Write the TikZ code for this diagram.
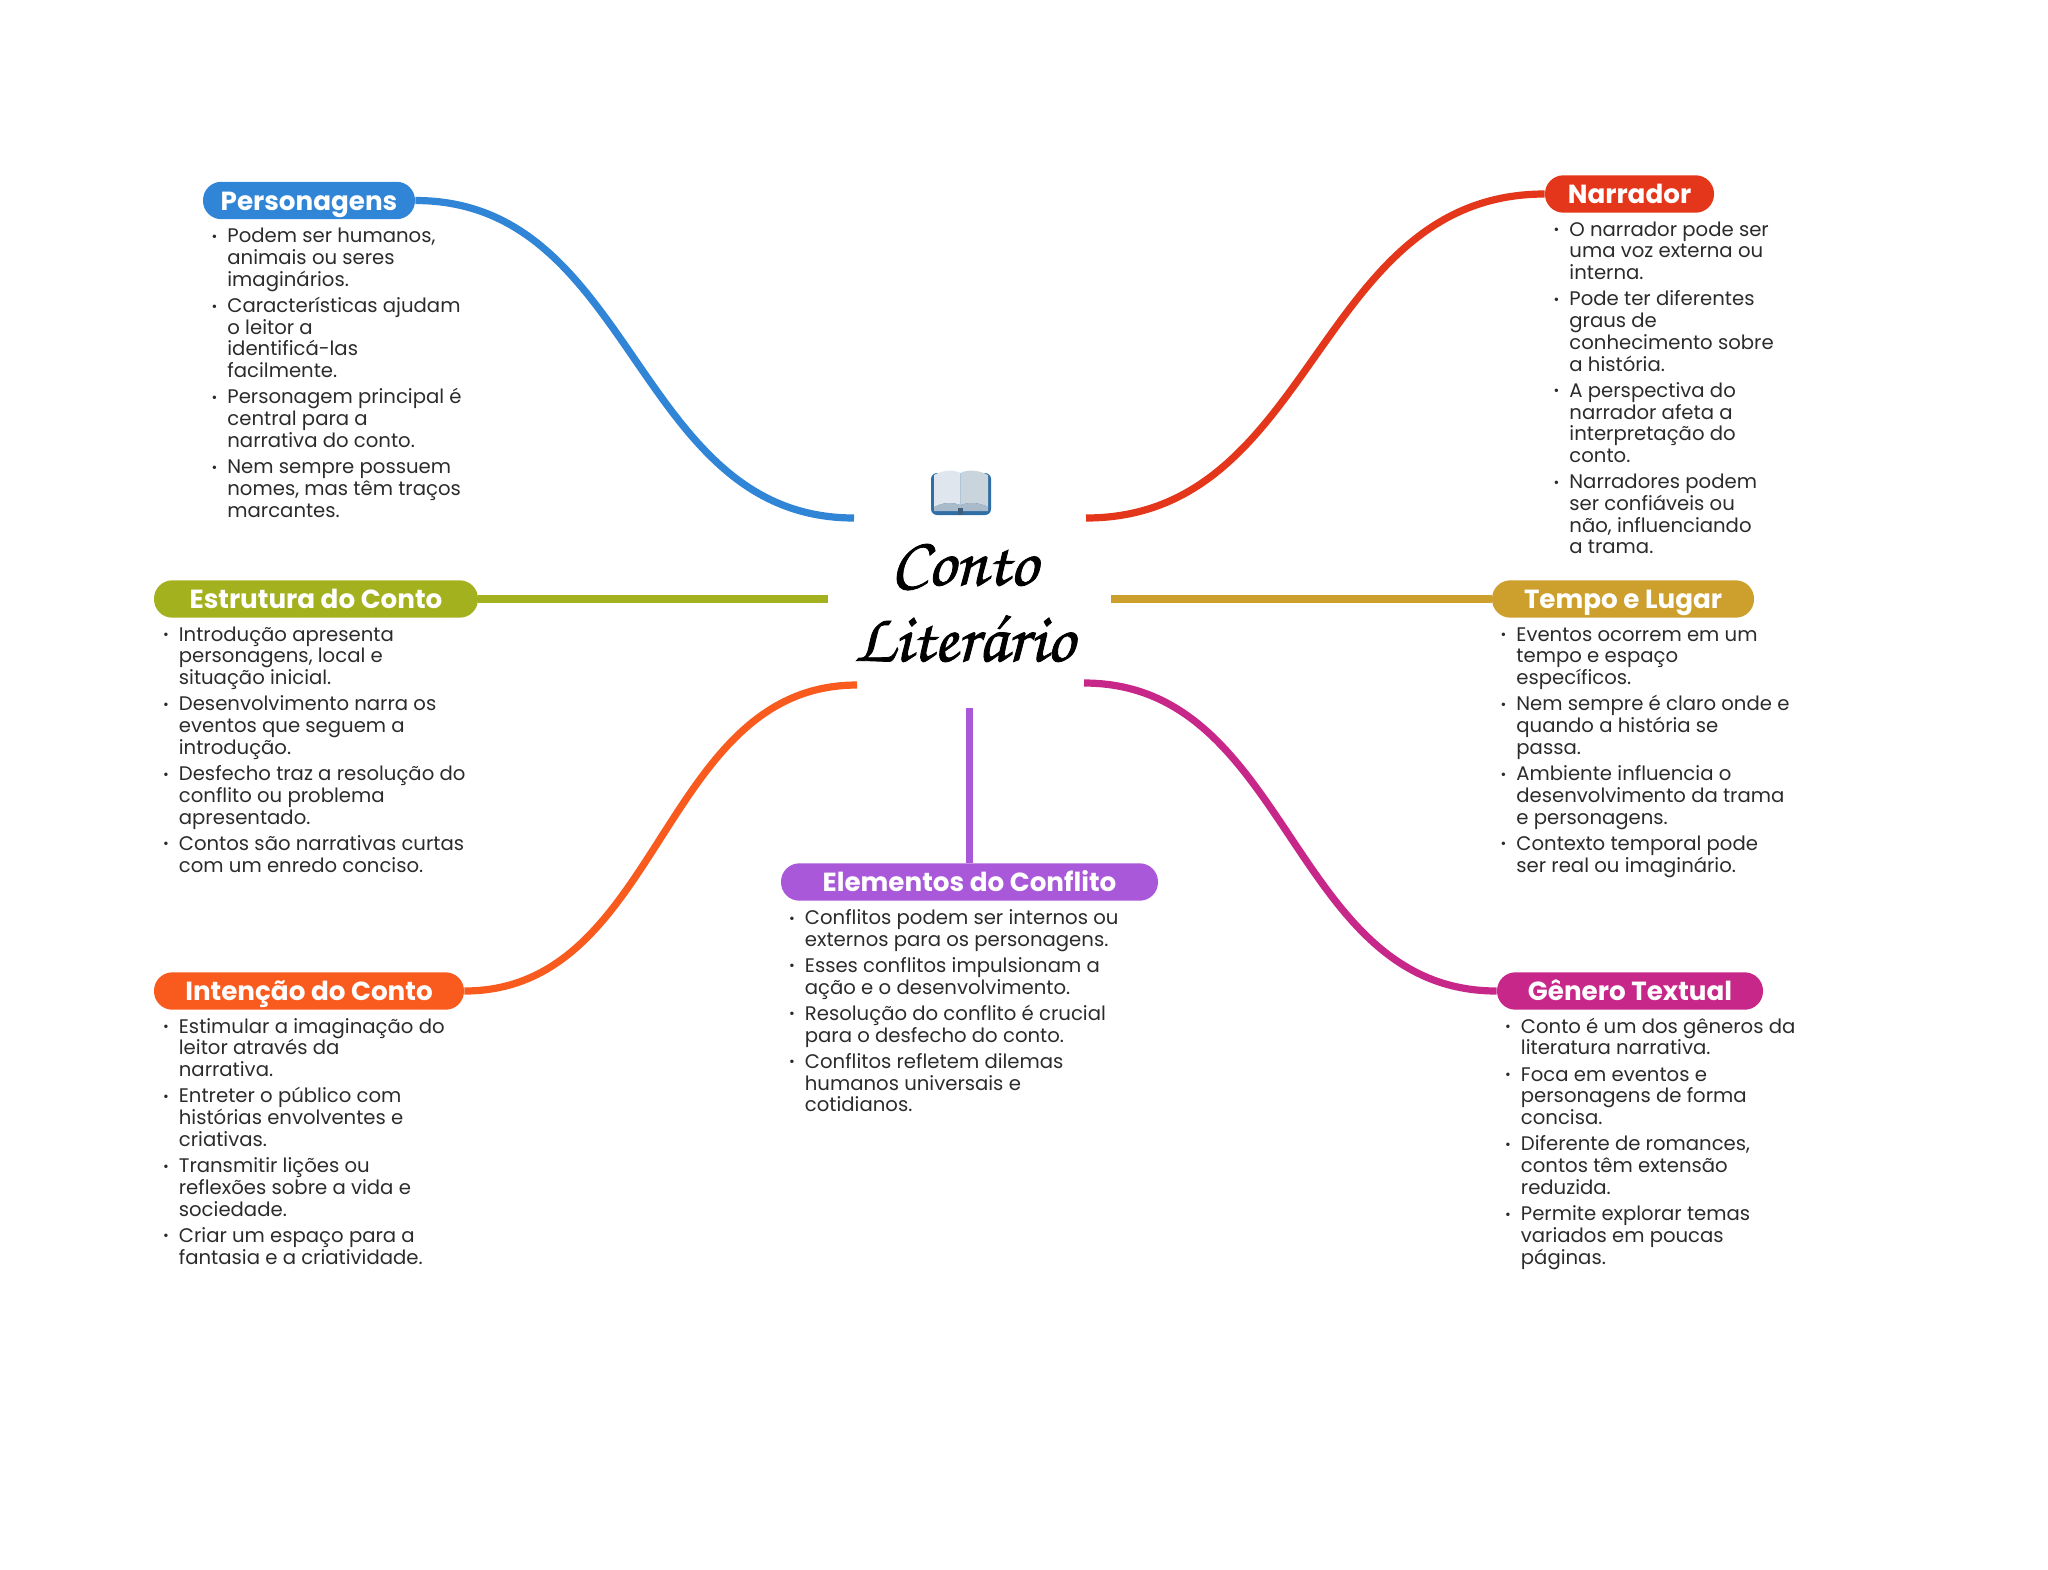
\documentclass[tikz,border=0pt]{standalone}
\usepackage{fontspec}
\setmainfont{Poppins}
\newfontfamily\chorusfont[FakeBold=1.2]{TeX Gyre Chorus}
\definecolor{cblue}{HTML}{3085D6}
\definecolor{cred}{HTML}{E4361A}
\definecolor{colive}{HTML}{A4B11E}
\definecolor{ctan}{HTML}{CDA02E}
\definecolor{corange}{HTML}{F95B1F}
\definecolor{cmag}{HTML}{C8278A}
\definecolor{cpurple}{HTML}{A958D9}
\definecolor{ctext}{HTML}{2B2B2B}
\definecolor{bookback}{HTML}{2F6FA6}
\definecolor{bookleft}{HTML}{DFE6ED}
\definecolor{bookright}{HTML}{C9D4DC}
\definecolor{bookfoot}{HTML}{A9BBCB}
\definecolor{bookspine}{HTML}{3F5F7F}
\newcommand{\Bu}{\llap{{\fontsize{7}{7}\selectfont\raisebox{0.7pt}{•}}\hspace{5pt}}}
\newcommand{\Fr}{\rule{0pt}{8.5pt}\Bu}
\newcommand{\Gp}{\\[2.25pt]}
\tikzset{
  x=0.5pt,y=-0.5pt,
  pill/.style={fill=#1,draw=none,rounded corners=9.2pt,minimum height=18.7pt,inner sep=0pt,text=white,text height=9.5pt,text depth=0pt,font=\fontsize{13.1}{15}\selectfont\bfseries},
  listbox/.style={anchor=north west,inner sep=0pt,align=left,text=ctext,font=\fontsize{9.83}{10.87}\selectfont},
  link/.style={draw=#1,line width=3.6pt},
  titletext/.style={align=center,inner sep=0pt,font=\chorusfont\fontsize{34.8}{38}\selectfont,text=black}
}
\begin{document}
\begin{tikzpicture}
\useasboundingbox (0,0) rectangle (2048,1569);
% free ends of connectors
\coordinate (eb) at (854,518);
\coordinate (er) at (1086,518);
\coordinate (eo) at (828,599);
\coordinate (et) at (1111,599);
\coordinate (ef) at (857,685);
\coordinate (em) at (1084,683);
\coordinate (ep) at (969.5,708);
% topic pills
\node[pill=cblue,minimum width=106pt] (per) at (309,200.5) {Personagens};
\node[pill=cred,minimum width=84.5pt] (nar) at (1629.5,194) {Narrador};
\node[pill=colive,minimum width=162pt] (est) at (316,599) {Estrutura do Conto};
\node[pill=ctan,minimum width=131pt] (tem) at (1623,599) {Tempo e Lugar};
\node[pill=corange,minimum width=155pt] (int) at (309,991) {Intenção do Conto};
\node[pill=cmag,minimum width=133pt] (gen) at (1630,991) {Gênero Textual};
\node[pill=cpurple,minimum width=188.5pt] (ele) at (969.5,882) {Elementos do Conflito};
% connectors
\draw[link=cblue] (per.east) .. controls +(220,0) and +(-220,0) .. (eb);
\draw[link=cred] (nar.west) .. controls +(-230,0) and +(230,0) .. (er);
\draw[link=colive] (est.east) -- (eo);
\draw[link=ctan] (tem.west) -- (et);
\draw[link=corange] (int.east) .. controls +(197,0) and +(-197,0) .. (ef);
\draw[link=cmag] (gen.west) .. controls +(-207,0) and +(207,0) .. (em);
\draw[link=cpurple] (ele.north) -- (ep);
% book icon
\fill[bookback,rounded corners=3pt] (931,473) rectangle (991,515);
\fill[bookleft] (934,475) .. controls (945,469) and (955,470) .. (960.5,473) -- (960.5,505) .. controls (952,502) and (944,502) .. (934,507) -- cycle;
\fill[bookright] (988,475) .. controls (977,469) and (966,470) .. (960.5,473) -- (960.5,505) .. controls (969,502) and (978,502) .. (988,507) -- cycle;
\fill[bookfoot] (934,507) .. controls (944,502) and (952,502) .. (960.5,505) .. controls (969,502) and (978,502) .. (988,507) -- (988,511) -- (934,511) -- cycle;
\fill[bookspine] (958,508) rectangle (963,515);
% title
\node[titletext] (title) at (964,603) {Conto\\Literário};
% text blocks
\node[listbox] (lper) at (227,225.3) {\Fr Podem ser humanos,\\animais ou seres\\imaginários.\Gp
\Bu Características ajudam\\o leitor a\\identificá-las\\facilmente.\Gp
\Bu Personagem principal é\\central para a\\narrativa do conto.\Gp
\Bu Nem sempre possuem\\nomes, mas têm traços\\marcantes.};
\node[listbox] (lnar) at (1569,218.7) {\Fr O narrador pode ser\\uma voz externa ou\\interna.\Gp
\Bu Pode ter diferentes\\graus de\\conhecimento sobre\\a história.\Gp
\Bu A perspectiva do\\narrador afeta a\\interpretação do\\conto.\Gp
\Bu Narradores podem\\ser confiáveis ou\\não, influenciando\\a trama.};
\node[listbox] (lest) at (178.5,623.8) {\Fr Introdução apresenta\\personagens, local e\\situação inicial.\Gp
\Bu Desenvolvimento narra os\\eventos que seguem a\\introdução.\Gp
\Bu Desfecho traz a resolução do\\conflito ou problema\\apresentado.\Gp
\Bu Contos são narrativas curtas\\com um enredo conciso.};
\node[listbox] (ltem) at (1516,623.8) {\Fr Eventos ocorrem em um\\tempo e espaço\\específicos.\Gp
\Bu Nem sempre é claro onde e\\quando a história se\\passa.\Gp
\Bu Ambiente influencia o\\desenvolvimento da trama\\e personagens.\Gp
\Bu Contexto temporal pode\\ser real ou imaginário.};
\node[listbox] (lint) at (178.5,1015.8) {\Fr Estimular a imaginação do\\leitor através da\\narrativa.\Gp
\Bu Entreter o público com\\histórias envolventes e\\criativas.\Gp
\Bu Transmitir lições ou\\reflexões sobre a vida e\\sociedade.\Gp
\Bu Criar um espaço para a\\fantasia e a criatividade.};
\node[listbox] (lgen) at (1520.5,1015.8) {\Fr Conto é um dos gêneros da\\literatura narrativa.\Gp
\Bu Foca em eventos e\\personagens de forma\\concisa.\Gp
\Bu Diferente de romances,\\contos têm extensão\\reduzida.\Gp
\Bu Permite explorar temas\\variados em poucas\\páginas.};
\node[listbox] (lele) at (804.5,907) {\Fr Conflitos podem ser internos ou\\externos para os personagens.\Gp
\Bu Esses conflitos impulsionam a\\ação e o desenvolvimento.\Gp
\Bu Resolução do conflito é crucial\\para o desfecho do conto.\Gp
\Bu Conflitos refletem dilemas\\humanos universais e\\cotidianos.};
\end{tikzpicture}
\end{document}
